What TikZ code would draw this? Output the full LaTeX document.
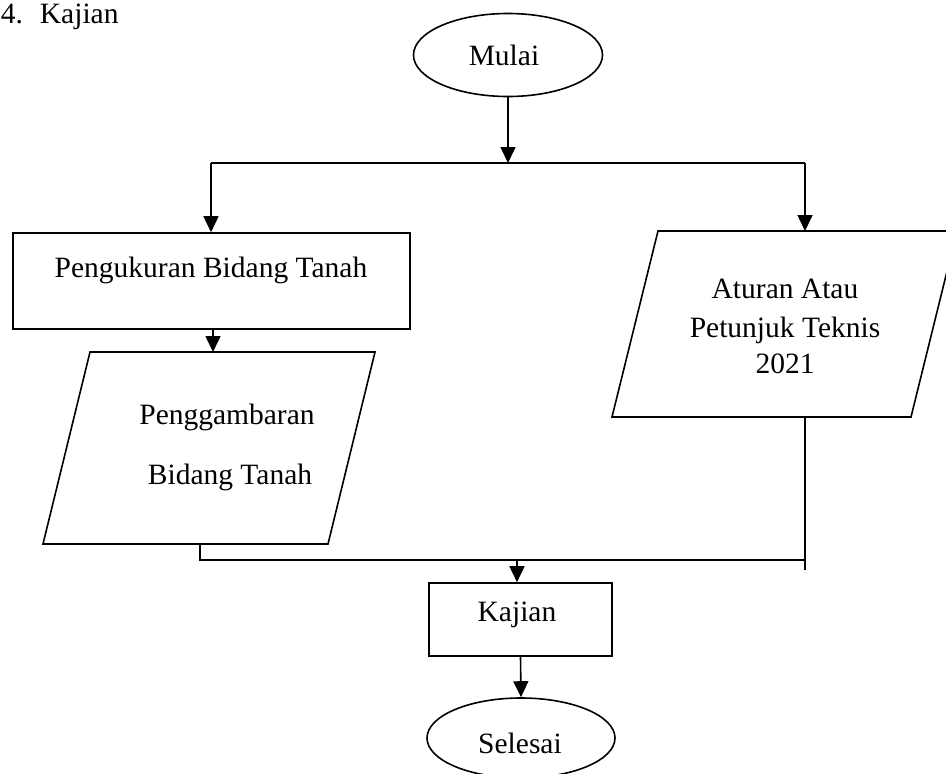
\documentclass[tikz,border=0pt]{standalone}
\usepackage{fontspec}
\setmainfont{Liberation Serif}
\usetikzlibrary{arrows.meta,shapes.geometric}
\begin{document}
\begin{tikzpicture}[x=1pt,y=-1pt,
  font=\fontsize{29.5}{37.5}\selectfont,
  line width=1.6pt,
  arr/.style={-{Triangle[width=15pt,length=16pt]}},
  term/.style={ellipse,draw,inner sep=0pt},
  boxnode/.style={rectangle,draw,inner sep=0pt},
  txt/.style={anchor=base,inner sep=0pt}]
\clip (0,0) rectangle (946,774);
\fill[white] (0,0) rectangle (946,774);

% title
\node[anchor=base west,inner sep=0pt] (title) at (0,23) {4.\hspace{17pt}Kajian};

% start
\node[term,minimum width=189pt,minimum height=83pt] (mulai) at (508,55) {};
\node[txt] (mulaitxt) at (504,65) {Mulai};

% left process
\node[boxnode,minimum width=397pt,minimum height=96pt] (peng) at (211.5,281) {};
\node[txt] (pengtxt) at (211,277) {Pengukuran Bidang Tanah};

% left parallelogram
\coordinate (pgA) at (43,544);
\coordinate (pgB) at (328,544);
\coordinate (pgC) at (375,352);
\coordinate (pgD) at (90,352);
\draw (pgA) -- (pgB) -- (pgC) -- (pgD) -- cycle;
\node[txt] (pgtxt1) at (227,424) {Penggambaran};
\node[txt] (pgtxt2) at (230,484) {Bidang Tanah};

% right parallelogram
\coordinate (atA) at (612,417);
\coordinate (atB) at (911,417);
\coordinate (atC) at (957,231);
\coordinate (atD) at (658,231);
\draw (atA) -- (atB) -- (atC) -- (atD) -- cycle;
\node[txt] (attxt1) at (785,298) {Aturan Atau};
\node[txt] (attxt2) at (785,337) {Petunjuk Teknis};
\node[txt] (attxt3) at (785,373) {2021};

% Kajian process
\node[boxnode,minimum width=183pt,minimum height=73pt] (kaj) at (520.5,619.5) {};
\node[txt] (kajtxt) at (517,621) {Kajian};

% end
\node[term,minimum width=188pt,minimum height=80pt] (selesai) at (521,738) {};
\node[txt] (seltxt) at (520,753) {Selesai};

% junctions
\coordinate (j1) at (508,163);
\coordinate (jl) at (211,163);
\coordinate (jr) at (805,163);
\coordinate (attop) at (805,231);
\coordinate (atbot) at (805,417);
\coordinate (atend) at (805,570);
\coordinate (pgtop) at (213,352);
\coordinate (pgbot) at (200,544);
\coordinate (m1) at (200,560);
\coordinate (m2) at (805,560);
\coordinate (m3) at (517,560);

% connectors
\draw[arr] (mulai.south) -- (j1);
\draw (jl) -- (jr);
\draw[arr] (jl) -- (jl |- peng.north);
\draw[arr] (jr) -- (attop);
\draw[arr] (peng.south -| pgtop) -- (pgtop);
\draw (pgbot) -- (m1) -- (m2);
\draw (atbot) -- (atend);
\draw[arr] (m3) -- (m3 |- kaj.north);
\draw[arr] (kaj.south) -- (selesai.north);
\end{tikzpicture}
\end{document}
